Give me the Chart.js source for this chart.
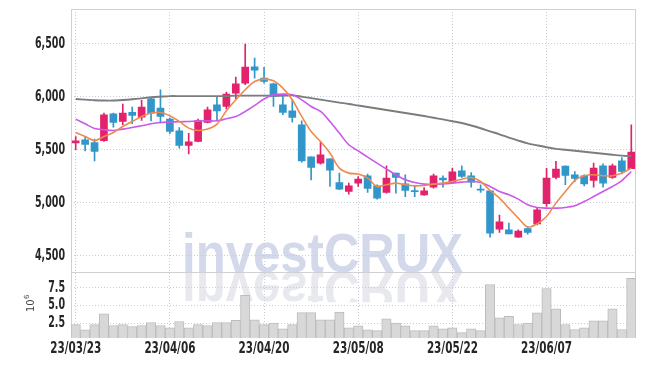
<!DOCTYPE html>
<html>
<head>
<meta charset="utf-8">
<title>investCRUX price chart</title>
<script src="https://cdn.jsdelivr.net/npm/chart.js"></script>
<style>
  html, body { margin: 0; padding: 0; background: #fff; }
  #wrap { width: 645px; height: 366px; }
</style>
</head>
<body>
<div id="wrap"><canvas id="chart" width="645" height="366"></canvas></div>
<script>
// trading days, YY/MM/DD
const dates = [
  '23/03/23','23/03/24','23/03/27','23/03/28','23/03/29','23/03/30','23/03/31','23/04/03','23/04/04','23/04/05',
  '23/04/06','23/04/07','23/04/10','23/04/11','23/04/12','23/04/13','23/04/14','23/04/17','23/04/18','23/04/19',
  '23/04/20','23/04/21','23/04/24','23/04/25','23/04/26','23/04/27','23/04/28','23/05/02','23/05/03','23/05/04',
  '23/05/08','23/05/09','23/05/10','23/05/11','23/05/12','23/05/15','23/05/16','23/05/17','23/05/18','23/05/19',
  '23/05/22','23/05/23','23/05/24','23/05/25','23/05/26','23/05/30','23/05/31','23/06/01','23/06/02','23/06/05',
  '23/06/07','23/06/08','23/06/09','23/06/12','23/06/13','23/06/14','23/06/15','23/06/16','23/06/19','23/06/20'
];
const opens = [
  5565,5594,5569,5585,5839,5767,5852,5808,5980,5893, 5789,5679,5540,5578,5757,5924,5908,6034,6129,6282,
  6176,6122,5924,5867,5736,5434,5374,5415,5191,5107, 5186,5255,5160,5097,5280,5179,5116,5075,5148,5233,
  5191,5302,5255,5129,5113,4752,4745,4677,4758,4802, 4991,5239,5346,5264,5255,5210,5349,5239,5396,5321
];
const highs = [
  5625,5622,5600,5846,5845,5931,5902,5965,5985,6066, 5799,5710,5655,5789,5902,6002,6044,6185,6497,6364,
  6276,6129,6012,5971,5773,5434,5572,5415,5280,5186, 5248,5270,5170,5349,5280,5264,5160,5144,5270,5255,
  5327,5349,5286,5170,5113,4884,4808,4745,4777,4950, 5324,5390,5349,5295,5264,5374,5368,5365,5427,5736
];
const lows = [
  5500,5490,5396,5578,5714,5736,5745,5776,5773,5752, 5651,5516,5462,5575,5752,5773,5886,5980,6113,6176,
  6129,5908,5830,5761,5384,5217,5365,5154,5123,5082, 5154,5097,5035,5091,5091,5059,5059,5069,5139,5148,
  5186,5239,5148,5097,4677,4720,4708,4673,4705,4792, 4965,5226,5170,5201,5160,5148,5148,5229,5273,5321
];
const closes = [
  5585,5550,5484,5830,5757,5846,5824,5902,5846,5814, 5672,5540,5575,5776,5877,5867,6025,6122,6280,6251,
  6144,6002,5852,5804,5396,5333,5453,5308,5129,5160, 5223,5135,5044,5233,5239,5116,5104,5113,5255,5217,
  5292,5248,5195,5120,4714,4821,4708,4733,4720,4934, 5233,5318,5258,5229,5179,5327,5186,5349,5295,5478
];
// moving averages as drawn
const ma5 = [
  5663,5625,5587,5625,5663,5720,5767,5814,5846,5852, 5820,5767,5704,5682,5695,5742,5867,5971,6066,6144,
  6166,6150,6081,5971,5814,5672,5578,5469,5327,5280, 5271,5233,5154,5170,5186,5170,5160,5163,5176,5186,
  5201,5223,5239,5201,5116,5044,4950,4856,4771,4802, 4871,4997,5107,5210,5255,5264,5255,5255,5280,5327
];
const ma20 = [
  5789,5745,5701,5689,5682,5695,5710,5726,5745,5757, 5761,5764,5767,5770,5773,5773,5792,5814,5861,5918,
  5978,6018,6025,6018,5971,5908,5861,5767,5657,5547, 5490,5431,5374,5318,5264,5217,5191,5176,5176,5179,
  5186,5195,5201,5191,5154,5107,5075,5035,4981,4956, 4950,4950,4956,4972,5012,5059,5107,5154,5210,5295
];
const ma60 = [
  5978,5973,5967,5964,5964,5969,5976,5985,5995,6001, 6006,6006,6006,6006,6006,6006,6006,6010,6010,6010,
  6010,6010,6010,6013,6001,5987,5973,5959,5945,5932, 5917,5903,5889,5875,5861,5847,5833,5818,5802,5786,
  5769,5752,5729,5703,5674,5646,5615,5587,5561,5542, 5524,5509,5500,5491,5481,5472,5462,5453,5445,5440
];
// volume, millions of shares
const volumes = [
  2.3,1.55,2.3,3.83,2.17,2.3,2.02,2.17,2.59,2.17, 1.84,2.73,1.84,2.3,2.17,2.59,2.59,2.88,6.44,2.97,
  2.3,2.5,1.69,2.3,4.0,4.0,2.97,2.97,4.06,1.84, 2.12,1.55,1.45,3.12,2.5,2.12,1.45,1.45,2.12,1.69,
  1.84,1.17,1.69,1.45,7.96,3.26,3.45,2.31,2.5,3.97, 7.39,4.54,2.31,1.6,1.84,2.83,2.83,4.54,1.6,8.82
];
const priceTicks = [4500, 5000, 5500, 6000, 6500];
const volumeTicks = [2.5, 5.0, 7.5];

const UP = '#e2226c', DOWN = '#3196c9';
const GRID = '#c9cbdc';
const FRAME = '#cfcfd4';
const TICK_FONT = 'bold 15px "DejaVu Sans Condensed", "DejaVu Sans", sans-serif';
const candleColor = ctx => closes[ctx.dataIndex] >= opens[ctx.dataIndex] ? UP : DOWN;

// the original uses a narrow face, so labels are squeezed to its widths
function drawLabel(ctx, text, x, y, align, sx) {
  ctx.save();
  ctx.translate(x, y);
  ctx.scale(sx, 1);
  ctx.textAlign = align;
  ctx.fillText(text, 0, 0);
  ctx.restore();
}

// watermark, pane frames, tick labels and the 10^6 exponent
const decor = {
  id: 'decor',
  beforeDraw(chart) {
    const { ctx } = chart;
    const base = chart.scales.yv.top;
    ctx.save();
    ctx.font = 'bold 56px "Liberation Sans", Arial, sans-serif';
    const sx = 281 / ctx.measureText('investCRUX').width;
    ctx.translate(182, base);
    ctx.scale(sx, 1);
    ctx.fillStyle = '#d3d9ea';
    ctx.fillText('investCRUX', 0, 0);
    ctx.restore();

    ctx.save();
    ctx.beginPath();
    ctx.rect(0, base, chart.width, 30);
    ctx.clip();
    ctx.translate(182, base);
    ctx.scale(sx, -1);
    ctx.font = 'bold 56px "Liberation Sans", Arial, sans-serif';
    ctx.fillStyle = '#e8e9ef';
    ctx.fillText('investCRUX', 0, 0);
    ctx.restore();
  },
  beforeDatasetsDraw(chart) {
    const { ctx, chartArea: a } = chart;
    const sep = chart.scales.yv.top;
    ctx.save();
    ctx.strokeStyle = FRAME;
    ctx.lineWidth = 1;
    ctx.strokeRect(Math.round(a.left) + 0.5, Math.round(a.top) + 0.5, Math.round(a.right - a.left) - 1, Math.round(a.bottom - a.top) - 1);
    ctx.beginPath();
    ctx.moveTo(a.left, Math.round(sep) + 0.5);
    ctx.lineTo(a.right, Math.round(sep) + 0.5);
    ctx.stroke();
    ctx.restore();
  },
  afterDraw(chart) {
    const { ctx } = chart;
    const { x, y, yv } = chart.scales;
    ctx.save();
    ctx.font = TICK_FONT;
    ctx.fillStyle = '#262626';
    ctx.textBaseline = 'middle';
    const sy = 30 / ctx.measureText('6,500').width;
    const sd = 51 / ctx.measureText('23/03/23').width;
    priceTicks.forEach(v => drawLabel(ctx, v.toLocaleString('en-US'), 65, y.getPixelForValue(v), 'right', sy));
    volumeTicks.forEach(v => drawLabel(ctx, v.toFixed(1), 65, yv.getPixelForValue(v), 'right', sy));
    dates.forEach((d, i) => { if (i % 10 === 0) drawLabel(ctx, d, x.getPixelForValue(i), x.top + 11, 'center', sd); });
    ctx.restore();

    ctx.save();
    ctx.translate(34, (yv.top + yv.bottom) / 2 + 7);
    ctx.rotate(-Math.PI / 2);
    ctx.fillStyle = '#444';
    ctx.textBaseline = 'alphabetic';
    ctx.font = '10px "DejaVu Sans", sans-serif';
    ctx.fillText('10', 0, 0);
    const w = ctx.measureText('10').width;
    ctx.font = '7px "DejaVu Sans", sans-serif';
    ctx.fillText('6', w + 0.5, -5);
    ctx.restore();
  }
};

new Chart(document.getElementById('chart'), {
  type: 'bar',
  data: {
    labels: dates,
    datasets: [
      { type: 'line', label: 'MA5', data: ma5, yAxisID: 'y', borderColor: '#ef8a4f', borderWidth: 1.6, pointRadius: 0, tension: 0.3, order: 0 },
      { type: 'line', label: 'MA20', data: ma20, yAxisID: 'y', borderColor: '#c95ae8', borderWidth: 1.6, pointRadius: 0, tension: 0.3, order: 0 },
      { type: 'line', label: 'MA60', data: ma60, yAxisID: 'y', borderColor: '#7c7c7c', borderWidth: 1.9, pointRadius: 0, tension: 0.3, order: 0 },
      { label: 'body', data: opens.map((o, i) => [o, closes[i]]), yAxisID: 'y', backgroundColor: candleColor, barThickness: 7, grouped: false, order: 1 },
      { label: 'wick', data: lows.map((l, i) => [l, highs[i]]), yAxisID: 'y', backgroundColor: candleColor, barThickness: 1, grouped: false, order: 2 },
      { label: 'volume', data: volumes, yAxisID: 'yv', backgroundColor: '#d8d8d8', borderColor: '#bcbcbc', borderWidth: 1, barPercentage: 1, categoryPercentage: 1, grouped: false, order: 3 }
    ]
  },
  options: {
    responsive: false,
    animation: false,
    layout: { padding: { top: 9, right: 9, left: 0, bottom: 0 } },
    plugins: { legend: { display: false }, tooltip: { enabled: false } },
    scales: {
      x: {
        offset: true,
        afterFit: s => { s.height = 28; },
        grid: { offset: false, drawTicks: false, color: c => (c.index % 10 === 0 ? GRID : 'transparent') },
        border: { display: false, dash: [1, 2] },
        ticks: { autoSkip: false, display: false }
      },
      // declared first so it is stacked below the price pane
      yv: {
        position: 'left', stack: 'pane', stackWeight: 1,
        min: 0.4, max: 9.7,
        afterBuildTicks: s => { s.ticks = volumeTicks.map(v => ({ value: v })); },
        afterFit: s => { s.width = 71; },
        grid: { drawTicks: false, color: GRID },
        border: { display: false, dash: [1, 2] },
        ticks: { display: false }
      },
      y: {
        position: 'left', stack: 'pane', stackWeight: 4,
        min: 4346, max: 6827,
        afterBuildTicks: s => { s.ticks = priceTicks.map(v => ({ value: v })); },
        afterFit: s => { s.width = 71; },
        grid: { drawTicks: false, color: GRID },
        border: { display: false, dash: [1, 2] },
        ticks: { display: false }
      }
    }
  },
  plugins: [decor]
});
</script>
</body>
</html>
